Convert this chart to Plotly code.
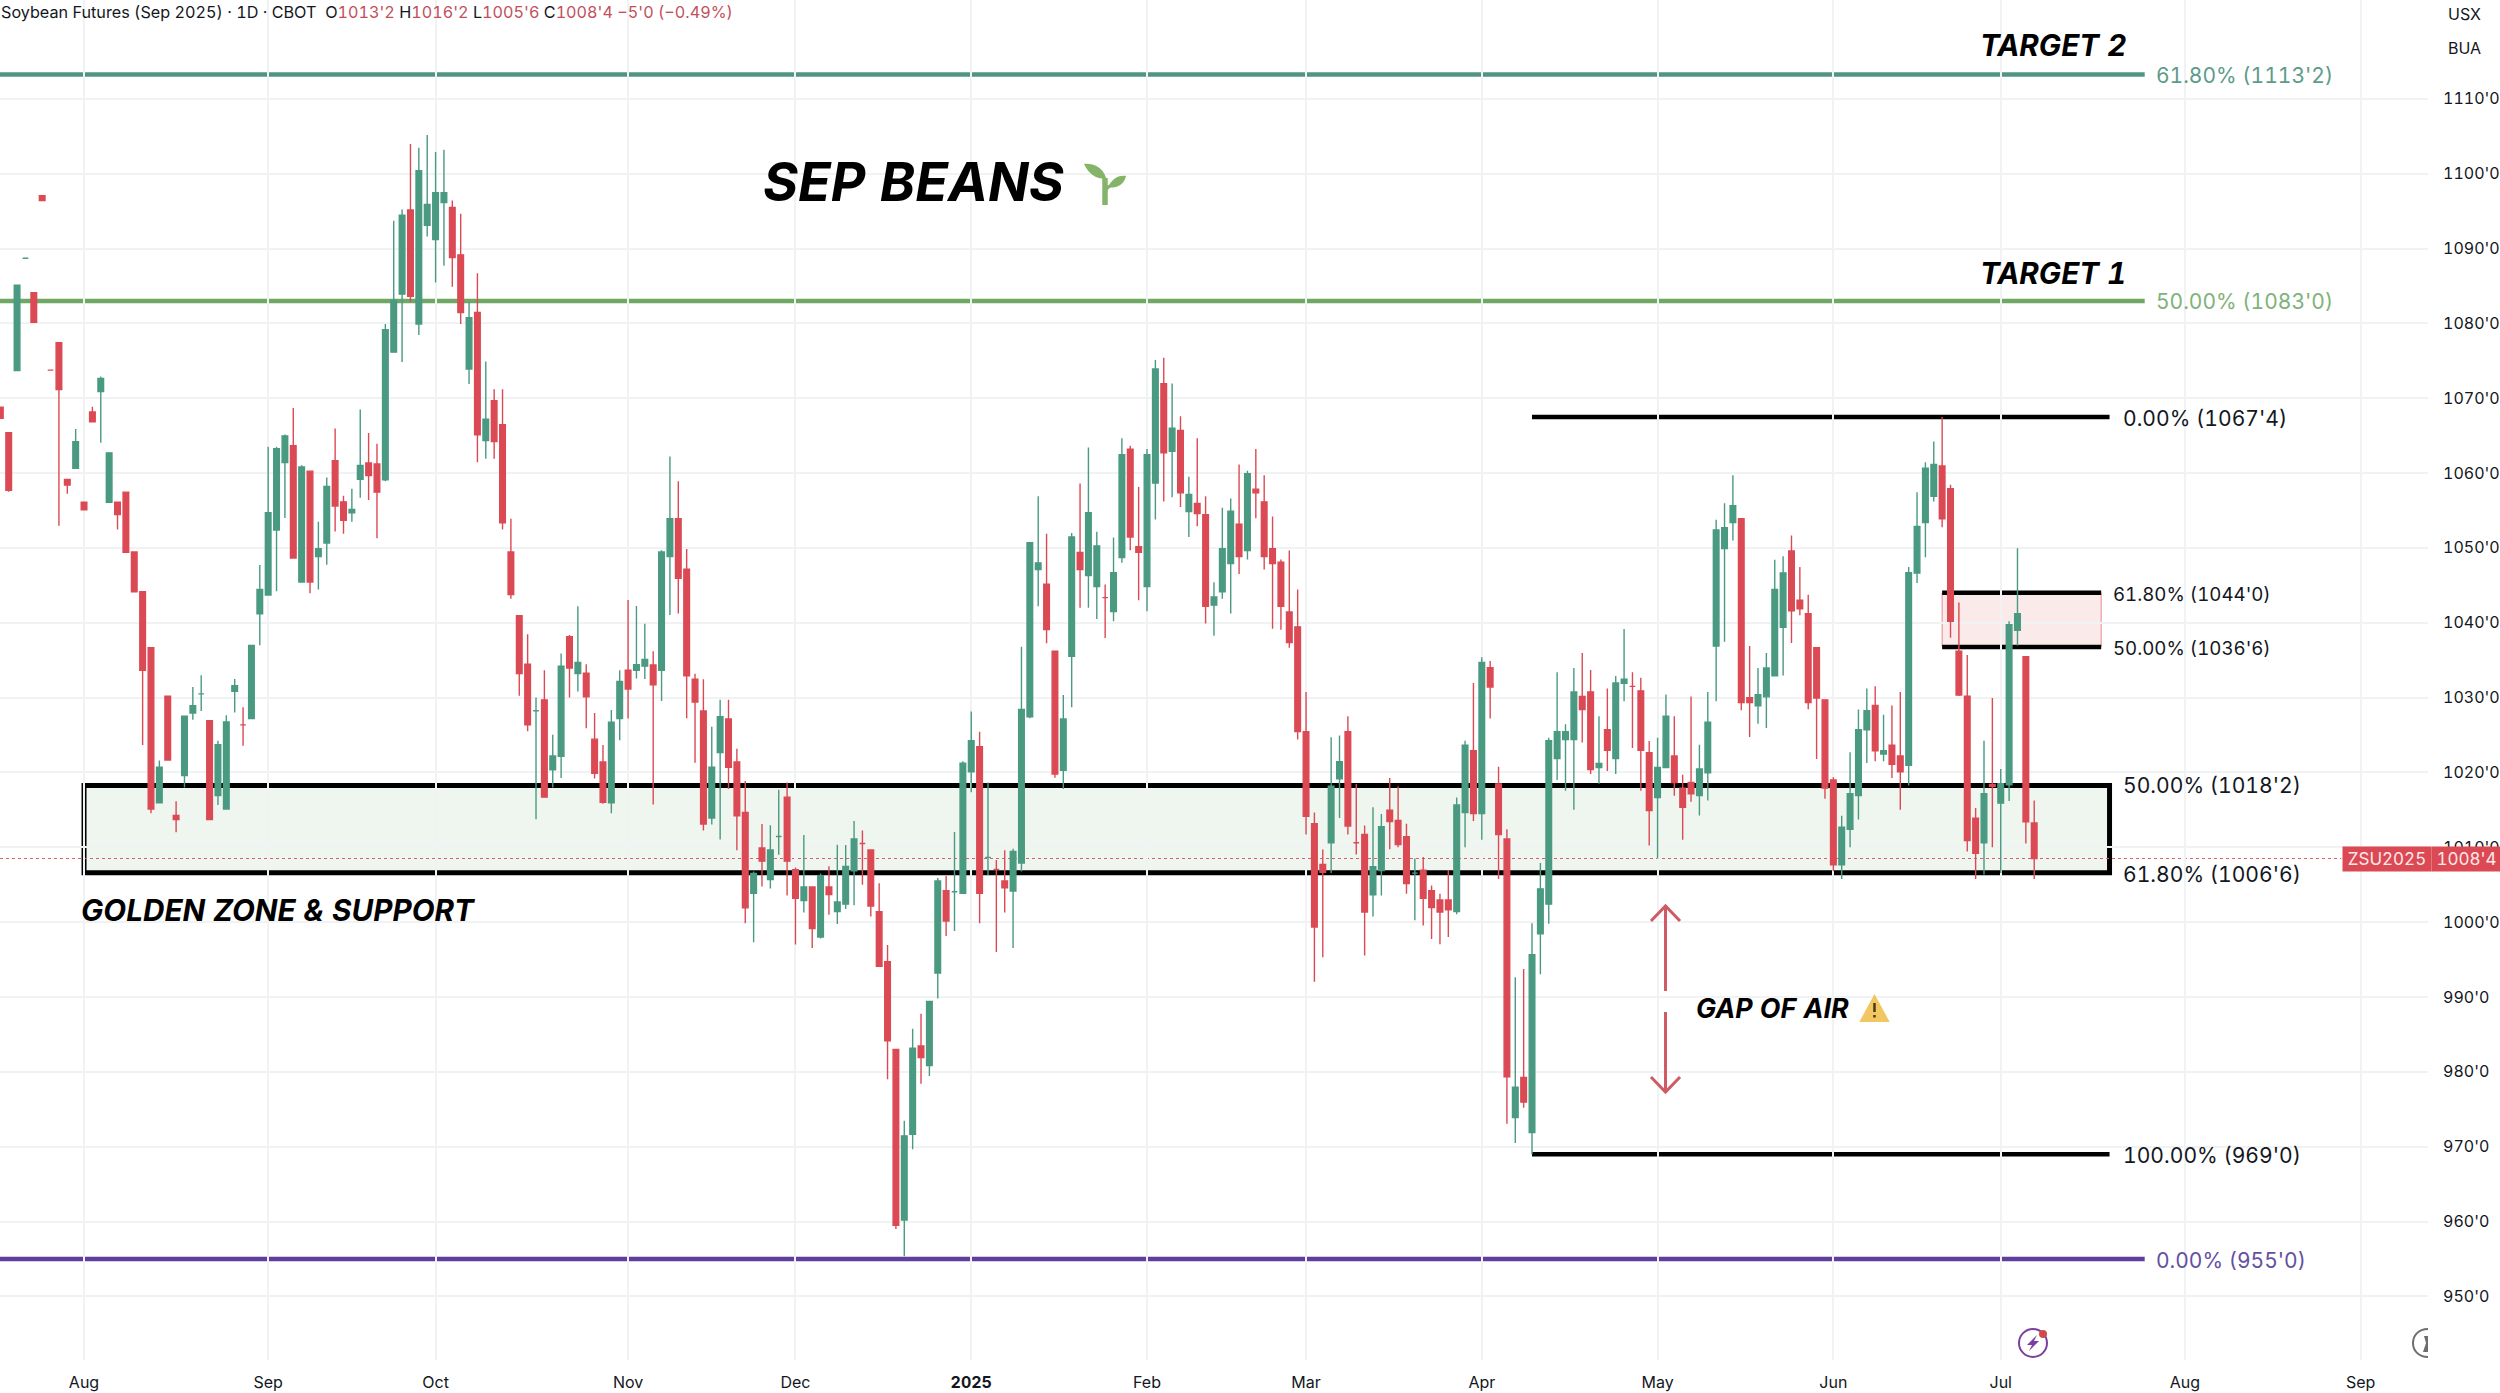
import plotly.graph_objects as go

OPEN = [1068.8,1065.4,1073.7,1088.7,1084.1,1097.05,1073.75,1077.4,1059.15,1060.65,
1056.1,1068.15,1070.9,1056.1,1056.1,1057.45,1049.45,1044.15,1036.65,1015.95,
1030.2,1014.25,1019.6,1027.95,1030.5,1026.9,1016.9,1015.1,1030.85,1026.35,
1027.2,1041.2,1043.7,1052.4,1061.4,1063.65,1045.45,1060.25,1048.85,1050.65,
1061.65,1056.15,1054.7,1059.15,1061.35,1061.2,1059.1,1076.15,1083.9,1095.15,
1079.9,1093.1,1091.2,1096.15,1095.5,1089.15,1073.9,1081.45,1064.35,1069.65,
1066.45,1049.45,1040.95,1034.45,1028.25,1029.7,1020.35,1022.15,1038.15,1033.2,
1033.25,1024.45,1021.4,1015.95,1027.2,1033.65,1033.65,1034.2,1034.35,1033.65,
1048.85,1053.9,1047.15,1032.45,1028.2,1013.9,1022.65,1027.15,1021.4,1014.65,
1003.85,1009.9,1005.7,1011.45,1016.7,1007,1002.9,1004.7,998,1004.7,
1001.4,1002.4,1006.85,1010.5,1009.65,1001.4,994.7,983,960.2,971.65,
983.45,980.85,993.2,1004.2,1004.05,1003.85,1020.1,1023.45,1008.65,1007.05,
1005.5,1004.15,1007.9,1027.45,1047.1,1045.15,1036.2,1020.3,1035.5,1049.4,
1046.3,1044.85,1043.35,1041.5,1048.7,1063.2,1050.15,1044.85,1058.65,1071.95,
1062.9,1065.7,1054.85,1055.95,1054.45,1042.35,1044.15,1047.9,1053.15,1049.65,
1057.85,1056.15,1049.9,1048.1,1041.45,1039.45,1025.45,1013.15,1007.7,1010.6,
1019.15,1025.45,1010.6,1011.7,1003.65,1006.9,1014.95,1013.6,1011.4,1006.55,
1006.95,1004.2,1002.95,1002.95,1001.4,1014.65,1022.9,1014.5,1034,1018.45,
1011.1,973.9,979.25,971.9,998.45,1002.4,1021.85,1024.4,1024.4,1030.15,
1030.75,1020.65,1025.7,1021.85,1031.9,1031.5,1030.9,1022.65,1016.65,1020.65,
1022.2,1017.9,1018.65,1016.9,1019.95,1036.9,1049.9,1053.4,1053.9,1030,
1028.9,1030.1,1032.9,1039.4,1049.6,1043,1041.2,1036.65,1029.7,1019,
1007.65,1012.4,1016.9,1025.7,1028.95,1022.45,1023.65,1022.2,1020.95,1046.65,
1053.4,1056.9,1060.95,1057.9,1036.2,1030.2,1013.9,1010.6,1018.4,1015.9,
1018.35,1039,1035.45,1013.25]

HIGH = [1068.8,1065.4,1085.1,1088.7,1084.1,1097.05,1073.75,1077.4,1059.15,1065.9,
1056.1,1068.85,1072.9,1062.7,1056.1,1057.45,1049.45,1044.15,1036.65,1021.6,
1030.2,1016.15,1027.5,1031.4,1033,1026.9,1024.25,1027.65,1032.5,1028.7,
1036.95,1047.7,1063.5,1063.5,1065.15,1068.7,1061.05,1060.25,1053.5,1059.4,
1065.95,1056.95,1057.9,1068.5,1065.35,1063.9,1079.9,1093.7,1095.2,1103.95,
1103.45,1105.15,1102.9,1103.2,1096.4,1094.65,1082.85,1086.7,1074.9,1071.2,
1071.2,1053.9,1040.95,1038.45,1030,1033.65,1025.05,1035.9,1038.35,1042.2,
1034.45,1027.95,1023.65,1028.35,1033.65,1043.05,1042.25,1039.85,1036.2,1049.7,
1062.2,1058.9,1049.85,1033.2,1032.45,1026.1,1029.7,1029.7,1023.15,1018.85,
1006.75,1013.1,1012.95,1017.7,1018.65,1007.3,1011.65,1004.7,1006.5,1007.45,
1010.35,1010.3,1013.5,1012.25,1009.65,1005.2,996.95,983,973.45,985.75,
987.75,989.4,1005.9,1006.15,1012.05,1021.5,1028.15,1025.45,1018.65,1008.3,
1009.6,1009.8,1036.8,1050.7,1056.9,1051.9,1036.2,1030.35,1052,1058.6,
1063.4,1052.15,1045.1,1051.4,1064.65,1063.65,1058.15,1063.2,1075.1,1075.4,
1071.95,1067.6,1059.5,1064.65,1056.9,1045.4,1055.35,1056.6,1061.15,1060.3,
1063.2,1059.7,1054.2,1048.45,1049.65,1044.45,1030.75,1014.65,1009.7,1024.7,
1024.95,1027.5,1018.45,1012.9,1015.35,1014.45,1019.25,1018.15,1013.15,1008.5,
1008.7,1004.9,1003.8,1006.95,1016.65,1024.25,1031.95,1035.4,1034.9,1020.75,
1012.4,992.65,993.75,999.85,1007.9,1024.65,1033.4,1026.45,1033.95,1035.95,
1033.7,1027.5,1031.2,1032.9,1039.15,1033.4,1032.65,1024.2,1024.65,1030.4,
1027.5,1019.7,1030.15,1023.7,1030.75,1053.75,1055.95,1059.7,1053.9,1036.9,
1033.95,1035.95,1048.4,1048.9,1051.65,1047.45,1043.75,1036.65,1029.7,1019.35,
1014.2,1022.7,1028.4,1031.2,1031.5,1027.7,1028.95,1030.75,1047.45,1057.45,
1061.45,1064.2,1067.5,1058.45,1042.7,1035.7,1015.25,1024.25,1029.95,1020.45,
1040.2,1049.95,1035.45,1016.25]

LOW = [1067.3,1057.5,1073.7,1088.7,1080.15,1096.4,1073.75,1052.95,1057.25,1060.65,
1055.1,1066.85,1064.05,1056.1,1052.45,1049.4,1044.15,1023.65,1014.55,1015.95,
1021.65,1012,1018,1027.05,1028.2,1013.7,1015.65,1015,1028,1023.55,
1027.2,1037,1043.7,1044.2,1054,1048.65,1045.45,1043.95,1044.45,1047.75,
1052.2,1051.9,1053.5,1056.7,1056.4,1051.3,1058.9,1076.15,1074.85,1082.9,
1078.45,1091.6,1085.45,1087.7,1084.9,1079.9,1071.9,1061.45,1061.9,1061.9,
1052.45,1043.2,1030.25,1025.5,1013.75,1016.7,1018,1019.25,1030,1030.8,
1025.9,1019.2,1015.8,1014.55,1024.3,1027.2,1032.55,1032.5,1015.7,1029.55,
1041.05,1041.25,1027.25,1021.3,1012.25,1013.05,1011.05,1017.8,1009.6,999.85,
997.3,1004.75,1004.5,1009,1003.55,997,1001.3,996.55,997.8,1001,
999.75,1001.75,1002.25,1005,1000.75,994.1,979,959,955.35,969.65,
978.4,979.45,989.8,998.15,998.8,1003.85,1017.35,999.85,1006.3,996,
1001.3,996.55,1006.75,1027.25,1042.2,1037.25,1019.3,1017.8,1028.7,1042,
1042,1040.5,1037.95,1040.2,1048,1049.7,1043,1041.55,1053.8,1056.2,
1056.75,1055.45,1051.45,1052.9,1039.9,1038.25,1043.2,1041.25,1046.5,1048.45,
1053.95,1047.1,1039.2,1039.05,1036.65,1024.4,1011.7,992.05,995.3,1006.55,
1013.9,1011.7,1009.05,995.55,1000.75,1003.55,1009.75,1010,1003.8,1000.25,
999.55,997.75,997.05,998,1001.05,1010,1013.5,1011,1027.2,1005.75,
973.05,970.5,975.2,969,993.05,999.8,1019,1017.55,1015,1024,
1019.8,1018.5,1020.2,1019.8,1029.5,1023.25,1017.55,1010.25,1008.5,1020.65,
1016.9,1011,1016.1,1014.25,1016.25,1029.5,1037.45,1051,1028.3,1024.75,
1026.5,1025.95,1032.9,1032.95,1037.3,1041,1028.45,1021.8,1016.5,1006.8,
1005.75,1010,1013.7,1021.25,1021.5,1021.5,1019.25,1015,1018.25,1045.3,
1048.75,1056.2,1052.75,1038,1030.2,1009.45,1005.75,1006.35,1010,1006.55,
1016.2,1036.95,1010.5,1005.75]

CLOSE = [1067.3,1057.7,1085.1,1088.7,1080.15,1096.4,1073.75,1071.15,1058.4,1064.2,
1055.1,1066.85,1072.65,1062.7,1054.45,1049.4,1044.15,1033.65,1015.1,1020.7,
1021.65,1013.7,1027.5,1028.9,1030.5,1013.7,1023.7,1026.75,1031.6,1026.35,
1036.95,1044.45,1054.7,1063.25,1064.95,1048.65,1060.8,1045.45,1049.9,1058.2,
1055.6,1053.7,1055.15,1061,1059.65,1057.45,1079.15,1083.1,1094.45,1083.6,
1100.4,1095.9,1097.45,1097.45,1088.8,1081.45,1080.75,1065.1,1067.2,1064.2,
1053.35,1043.75,1033.2,1026.35,1028.25,1016.7,1022.2,1034.2,1033.95,1034.7,
1030.1,1019.9,1016,1026.7,1032.15,1031.15,1034.4,1035.1,1031.7,1049.45,
1053.9,1045.95,1032.9,1029.4,1013.1,1020.7,1027.45,1020.7,1014.2,1001.9,
1006.5,1008.15,1009.65,1011.45,1008.15,1003.2,1004.7,999.15,1006.2,1003.7,
1002.7,1007.45,1011.1,1010.5,1002.15,994.1,984.15,959.5,971.45,983.15,
981.9,989.4,1005.5,1000.15,1004.05,1021.25,1024.25,1003.85,1008.65,1007.05,
1004.6,1009.45,1028.4,1050.7,1048,1039.1,1019.8,1027.15,1051.45,1047.1,
1054.7,1050.25,1043.35,1046.7,1062.45,1051.45,1049.4,1062.45,1073.9,1062.7,
1066,1057.35,1057.15,1054.6,1042.2,1043.45,1049.9,1054.9,1048.85,1059.9,
1057.35,1048.85,1047.9,1042.2,1037.35,1025.45,1014.15,999.35,1006.65,1018.15,
1021.45,1012.85,1010.6,1001.35,1007.4,1012.75,1013.45,1010.35,1005.15,1006.55,
1003.2,1001.95,1001.35,1001.65,1015.65,1023.65,1014.5,1034.7,1031.4,1011.7,
979.35,977.95,975.95,995.65,1004.45,1024.25,1025.45,1025.45,1030.75,1028.4,
1020.4,1021.2,1022.95,1031.95,1032.45,1031.5,1022.95,1014.9,1020.65,1027.5,
1018.65,1015.35,1017.15,1020.45,1026.7,1052.4,1052.7,1055.65,1029.35,1029.35,
1030.4,1033.95,1044.45,1046.65,1041.6,1041.85,1029.35,1029.95,1017.9,1007.65,
1012.7,1017.15,1025.7,1028.25,1022.9,1022.9,1021.1,1020.1,1046.7,1052.85,
1060.65,1061.15,1053.9,1040.2,1030.35,1010.9,1009.2,1017.15,1018.15,1018.5,
1039.75,1041.2,1013.4,1008.5]

BARS = list(range(-10, 234))
assert len(OPEN) == len(HIGH) == len(LOW) == len(CLOSE) == len(BARS)

MONTH_BARS = [0, 22, 42, 65, 85, 106, 127, 146, 167, 188, 209, 229, 251, 272]
MONTH_LABELS = ["Aug", "Sep", "Oct", "Nov", "Dec", "<b>2025</b>", "Feb", "Mar", "Apr", "May", "Jun", "Jul", "Aug", "Sep"]
PRICE_TICKS = list(range(950, 1120, 10))
PRICE_LABELS = [f"{p}'0" for p in PRICE_TICKS]

TARGET2, TARGET1, LOW_LEVEL = 1113.25, 1083.0, 955.0
FIB_TOP, FIB_BOTTOM = 1067.5, 969.0
ZONE_HIGH, ZONE_LOW = 1018.25, 1006.6
RETRACE_HIGH, RETRACE_LOW = 1044.0, 1036.75
LAST_PRICE = 1008.5

W, H = 2500, 1393
PLOT_W, PLOT_H = 2428, 1360
GREEN, RED = "#4A9A82", "#DB4A54"
INK = "#131722"
FONT = "Inter"


def xp(px):
    return px / PLOT_W


def yp(py):
    return 1 - py / PLOT_H


def pt(px, py):
    return f"{xp(px):.5f},{yp(py):.5f}"


fig = go.Figure(go.Candlestick(
    x=BARS, open=OPEN, high=HIGH, low=LOW, close=CLOSE,
    increasing=dict(line=dict(color=GREEN, width=1.4), fillcolor=GREEN),
    decreasing=dict(line=dict(color=RED, width=1.4), fillcolor=RED),
    whiskerwidth=0, hoverinfo="skip", showlegend=False,
))

shapes = []


def hline(y, x0, x1, color, width, dash="solid"):
    shapes.append(dict(type="line", xref="x", yref="y", x0=x0, x1=x1, y0=y, y1=y,
                       line=dict(color=color, width=width, dash=dash), layer="below"))


LEFT = -10.04
# Zone boxes
shapes.append(dict(type="rect", xref="x", yref="y", x0=0, x1=242, y0=ZONE_LOW, y1=ZONE_HIGH,
                   fillcolor="#EFF6F0", line=dict(color="#000000", width=5), layer="below"))
shapes.append(dict(type="rect", xref="x", yref="y", x0=222, x1=241, y0=RETRACE_LOW, y1=RETRACE_HIGH,
                   fillcolor="#FBEAEA", line=dict(color="#E58C92", width=1), layer="below"))
hline(RETRACE_HIGH, 222, 241, "#000000", 4.5)
hline(RETRACE_LOW, 222, 241, "#000000", 4.5)
hline(LAST_PRICE, LEFT, 269.7, "#D8616A", 1.2, "dot")
hline(TARGET2, LEFT, 246.2, "#4F9583", 4.5)
hline(TARGET1, LEFT, 246.2, "#6FA765", 4.5)
hline(LOW_LEVEL, LEFT, 246.2, "#5E3F9E", 4.5)
hline(FIB_TOP, 173, 242, "#000000", 4.5)
hline(FIB_BOTTOM, 173, 242, "#000000", 4.5)


def pshape(path, fill=None, line=None, width=0):
    shapes.append(dict(type="path", xref="paper", yref="paper", path=path,
                       fillcolor=fill if fill else "rgba(0,0,0,0)",
                       line=dict(color=line if line else "rgba(0,0,0,0)", width=width)))


# Sprout
SPROUT = "#84B467"
pshape(f"M{pt(1084,164)} C{pt(1092,163)} {pt(1103,167)} {pt(1106,178)} C{pt(1098,180)} {pt(1089,175)} {pt(1084,164)} Z", fill=SPROUT)
pshape(f"M{pt(1126,176)} C{pt(1120,175)} {pt(1113,177)} {pt(1108,187)} C{pt(1116,189)} {pt(1124,185)} {pt(1126,176)} Z", fill=SPROUT)
pshape(f"M{pt(1105,205)} L{pt(1105,178)}", line=SPROUT, width=5.5)
pshape(f"M{pt(1105,196)} Q{pt(1105,188)} {pt(1110,186)}", line=SPROUT, width=3)

# Gap arrows
ARROW = "#CF5C64"
pshape(f"M{pt(1665.5,991)} L{pt(1665.5,906)} M{pt(1651,921)} L{pt(1665.5,906)} L{pt(1680,921)}", line=ARROW, width=3)
pshape(f"M{pt(1665.5,1012)} L{pt(1665.5,1092)} M{pt(1651,1077)} L{pt(1665.5,1092)} L{pt(1680,1077)}", line=ARROW, width=3)

# Warning sign
pshape(f"M{pt(1874.5,996)} L{pt(1888,1021)} L{pt(1861,1021)} Z", fill="#F2C661", line="#F2C661", width=2)
pshape(f"M{pt(1874.5,1003)} L{pt(1874.5,1012)}", line="#4A3B18", width=2.5)
pshape(f"M{pt(1874.5,1015)} L{pt(1874.5,1017.5)}", line="#4A3B18", width=2.5)

# Bottom icons
shapes.append(dict(type="circle", xref="paper", yref="paper", x0=xp(2019), x1=xp(2047), y0=yp(1357), y1=yp(1329),
                   fillcolor="rgba(0,0,0,0)", line=dict(color="#7B3FA0", width=2)))
pshape(f"M{pt(2037,1335)} L{pt(2027,1345)} L{pt(2032,1345)} L{pt(2029,1351)} L{pt(2039,1341)} L{pt(2034,1341)} Z", fill="#7B3FA0")
shapes.append(dict(type="circle", xref="paper", yref="paper", x0=xp(2039), x1=xp(2047), y0=yp(1338), y1=yp(1330),
                   fillcolor="#CF4A4A", line=dict(color="#FFFFFF", width=0)))
pshape(f"M{pt(2428,1329)} C{pt(2418,1329)} {pt(2413,1336)} {pt(2413,1343)} C{pt(2413,1350)} {pt(2418,1357)} {pt(2428,1357)}", line="#6E6E6E", width=2)
pshape(f"M{pt(2428,1336)} L{pt(2424,1336)} L{pt(2426,1343)} L{pt(2423,1352)} L{pt(2428,1352)} Z", fill="#6E6E6E")

annotations = []


def text(px, py, s, size, color=INK, anchor="left", font=FONT, **kw):
    annotations.append(dict(xref="paper", yref="paper", x=xp(px), y=yp(py), text=s, showarrow=False,
                            xanchor=anchor, yanchor="middle", align=anchor,
                            font=dict(family=font, size=size, color=color), borderpad=0, **kw))


def bold_italic(px, py, s, size, anchor="left"):
    text(px, py, f"<b><i>{s}</i></b>", size, color="#000000", anchor=anchor)


HEAD_RED = "#C2505C"
NB = "\u00a0"
text(0, 12,
     f"Soybean Futures (Sep 2025) · 1D · CBOT{NB}{NB}O<span style='color:{HEAD_RED}'>1013'2</span>{NB}"
     f"H<span style='color:{HEAD_RED}'>1016'2</span>{NB}L<span style='color:{HEAD_RED}'>1005'6</span>{NB}"
     f"C<span style='color:{HEAD_RED}'>1008'4</span>{NB}<span style='color:{HEAD_RED}'>−5'0 (−0.49%)</span>", 16.2)

text(2447, 14, "USX", 16)
text(2447, 48, "BUA", 16)

bold_italic(762, 182, "SEP BEANS", 53.5)
bold_italic(1979, 45, "TARGET 2", 29.7)
bold_italic(1979, 273, "TARGET 1", 29.7)
bold_italic(80, 910, "GOLDEN ZONE &amp; SUPPORT", 29.7)
bold_italic(1695, 1008, "GAP OF AIR", 26.8)

text(2155, 75, "61.80% (1113'2)", 21, color="#5D9C8A")
text(2155, 301, "50.00% (1083'0)", 21, color="#80B27A")
text(2155, 1260, "0.00% (955'0)", 21, color="#64509F")
text(2122, 418, "0.00% (1067'4)", 21.1)
text(2122, 1155, "100.00% (969'0)", 21.1)
text(2122, 786, "50.00% (1018'2)", 21.1)
text(2122, 874, "61.80% (1006'6)", 21.1)
text(2112, 594, "61.80% (1044'0)", 18.7)
text(2112, 648, "50.00% (1036'6)", 18.7)

# Last price badge
for left, w, s in ((2342, 88, "ZSU2025"), (2431, 69, "1008'4")):
    annotations.append(dict(xref="paper", yref="paper", x=xp(left), y=yp(859), text=s, showarrow=False,
                            xanchor="left", yanchor="middle", align="center", valign="middle",
                            width=w, height=24, bgcolor="#DB4A54", borderpad=0,
                            font=dict(family=FONT, size=17, color="#FBE9EA")))

fig.update_layout(
    width=W, height=H, autosize=False,
    margin=dict(l=0, r=W - PLOT_W, t=0, b=H - PLOT_H, pad=0),
    paper_bgcolor="#FFFFFF", plot_bgcolor="#FFFFFF",
    boxgap=0.04, showlegend=False, hovermode=False,
    shapes=shapes, annotations=annotations,
    xaxis=dict(type="linear", range=[LEFT, (PLOT_W - 84) / 8.37], rangeslider=dict(visible=False),
               tickmode="array", tickvals=MONTH_BARS, ticktext=MONTH_LABELS, ticks="", ticklabelstandoff=11,
               showgrid=True, gridcolor="#F1F2F4", gridwidth=1.5, zeroline=False, showline=False,
               tickfont=dict(family=FONT, size=16, color=INK)),
    yaxis=dict(side="right", range=[941.5, 1123.2], tickmode="array", tickvals=PRICE_TICKS, ticktext=PRICE_LABELS,
               ticks="", ticklabelstandoff=14, showgrid=True, gridcolor="#F1F2F4", gridwidth=1.5, zeroline=False, showline=False,
               tickfont=dict(family=FONT, size=16, color=INK)),
)

CSS_JS = ("document.body.style.margin='0';document.documentElement.style.overflow='hidden';"
          "var s=document.createElement('style');"
          "s.textContent='svg text{font-feature-settings:\"tnum\" 1;font-variant-numeric:tabular-nums;}';"
          "document.head.appendChild(s);")
fig.write_html("out.html", config=dict(displayModeBar=False), post_script=CSS_JS)
